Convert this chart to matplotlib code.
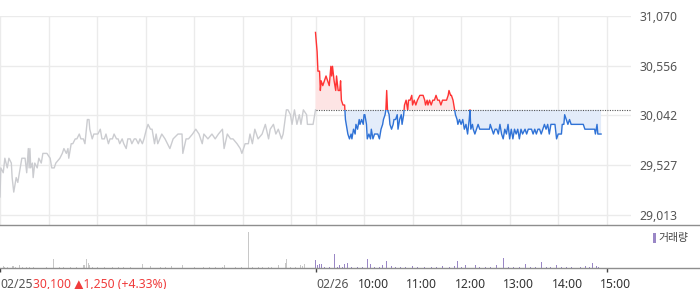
import matplotlib
matplotlib.use("Agg")
import matplotlib.pyplot as plt
from matplotlib.lines import Line2D
from matplotlib.patches import Rectangle
import numpy as np

plt.rcParams['font.family'] = ['Noto Sans', 'Noto Sans CJK KR', 'DejaVu Sans']

# --- data: minutes after 09:00 and price (won) ---
d1_min = [0, 1, 4, 6, 9, 11, 14, 15, 17, 20, 22, 25, 27, 31, 33, 35, 36, 37, 38, 40,
          41, 43, 46, 48, 51, 53, 56, 58, 62, 64, 67, 69, 74, 77, 79, 82, 84, 85, 88, 90,
          93, 95, 98, 100, 103, 105, 108, 110, 111, 114, 116, 119, 121, 124, 126, 129, 131, 134, 136, 139,
          141, 144, 146, 148, 151, 153, 156, 158, 161, 163, 166, 168, 171, 173, 176, 178, 181, 183, 186, 188,
          191, 193, 195, 200, 204, 210, 214, 220, 225, 226, 230, 233, 238, 242, 246, 250, 252, 257, 262, 266,
          270, 275, 277, 281, 285, 288, 293, 297, 299, 303, 307, 309, 312, 315, 319, 324, 328, 332, 334, 338,
          341, 344, 348, 350, 354, 356, 359, 361, 364, 367, 370, 372, 375, 379, 380, 387, 390]
d1_px = [29200, 29500, 29450, 29600, 29500, 29600, 29550, 29400, 29250, 29400, 29350, 29500, 29600, 29600, 29450, 29700, 29500, 29700, 29500, 29550,
         29400, 29550, 29500, 29600, 29550, 29650, 29650, 29650, 29600, 29500, 29500, 29550, 29600, 29650, 29700, 29650, 29700, 29600, 29750, 29750,
         29800, 29800, 29850, 29800, 29800, 29750, 30000, 30000, 29900, 29800, 29850, 29850, 29850, 29900, 29800, 29800, 29850, 29750, 29800, 29800,
         29850, 29800, 29800, 29750, 29800, 29750, 29700, 29800, 29800, 29750, 29800, 29800, 29750, 29800, 29750, 29800, 29900, 29950, 29900, 29900,
         29750, 29850, 29750, 29850, 29800, 29700, 29800, 29850, 29850, 29650, 29800, 29800, 29850, 29900, 29850, 29750, 29850, 29800, 29850, 29800,
         29850, 29900, 29700, 29850, 29800, 29800, 29750, 29700, 29650, 29750, 29750, 29850, 29750, 29900, 29800, 29850, 29950, 29800, 29900, 29950,
         29850, 29900, 29800, 29850, 30100, 30100, 30050, 29950, 30100, 29950, 30050, 29950, 30100, 30050, 29950, 29950, 30100]

d2_min = [0, 2, 3, 5, 6, 7, 9, 11, 13, 15, 17, 19, 20, 21, 23, 25, 26, 28, 30, 31,
          32, 34, 36, 37, 39, 40, 42, 44, 45, 47, 49, 50, 52, 54, 55, 57, 59, 60, 61, 63,
          64, 66, 68, 69, 71, 73, 77, 79, 81, 83, 84, 86, 87, 88, 89, 91, 92, 94, 96, 97,
          99, 101, 102, 104, 106, 107, 109, 110, 112, 114, 115, 117, 119, 120, 122, 124, 126, 129, 131, 133,
          135, 136, 138, 139, 141, 143, 145, 147, 149, 151, 153, 155, 157, 160, 162, 164, 165, 167, 168, 170,
          172, 173, 175, 176, 178, 180, 182, 184, 186, 188, 190, 191, 192, 194, 195, 197, 199, 201, 203, 205,
          215, 216, 218, 220, 222, 224, 226, 228, 230, 232, 234, 236, 238, 240, 242, 244, 246, 248, 250, 252,
          254, 256, 259, 261, 263, 265, 267, 269, 271, 273, 275, 277, 279, 281, 283, 285, 287, 289, 291, 296,
          298, 300, 304, 305, 307, 308, 310, 312, 314, 316, 331, 333, 345, 346, 348, 349, 353]
d2_px = [30900, 30700, 30500, 30500, 30300, 30400, 30350, 30400, 30450, 30400, 30350, 30550, 30450, 30550, 30400, 30300, 30450, 30300, 30300, 30400,
         30200, 30150, 30150, 30000, 29900, 29850, 29800, 29850, 29800, 29900, 29850, 29950, 29900, 30000, 29950, 30000, 29950, 30050, 30050, 29950,
         29800, 29850, 29800, 29900, 29800, 29850, 29850, 29800, 29900, 29950, 30000, 30050, 30100, 30300, 30100, 30050, 29950, 29900, 29950, 30000,
         30000, 30050, 29900, 30000, 30050, 29950, 30050, 30150, 30200, 30100, 30200, 30200, 30250, 30150, 30200, 30150, 30200, 30250, 30250, 30250,
         30200, 30150, 30200, 30150, 30200, 30150, 30200, 30200, 30250, 30200, 30200, 30150, 30200, 30200, 30200, 30250, 30300, 30250, 30250, 30200,
         30100, 30050, 30000, 29950, 30000, 29950, 30000, 29900, 29950, 29850, 30000, 30100, 29900, 29950, 29900, 29850, 29900, 29950, 29900, 29900,
         29900, 29950, 29900, 29850, 29900, 29900, 29850, 29950, 29850, 29800, 29900, 29850, 29950, 29800, 29900, 29800, 29900, 29850, 29900, 29800,
         29900, 29850, 29900, 29850, 29900, 29900, 29900, 29850, 29900, 29850, 29900, 29900, 29850, 29900, 29950, 29900, 29950, 29850, 29950, 29950,
         29800, 29850, 29850, 29950, 29950, 30050, 30000, 29950, 30000, 29950, 29950, 29900, 29900, 29850, 29950, 29850, 29850]

prev_close = 30100

# volume (thousand shares)
v1_min = [0, 4, 6, 9, 15, 17, 19, 24, 28, 33, 37, 42, 57, 66, 73, 79, 87, 94, 103, 105,
          107, 109, 111, 114, 121, 129, 139, 146, 153, 161, 176, 178, 186, 198, 204, 212, 226, 241, 251, 259,
          266, 275, 278, 291, 299, 307, 312, 319, 324, 332, 336, 344, 353, 354, 359, 365, 371, 374, 376]
v1 = [11.7, 2, 1.5, 1.5, 2, 2.5, 1.5, 2.7, 1, 1, 1, 1, 1.5, 8.7, 1, 1, 1, 1, 2.7, 3.5,
      8.7, 5, 3.3, 1.5, 1, 1, 1, 1, 1, 1, 4.3, 2, 2, 1, 1, 2.5, 2.7, 1, 1.5, 1,
      1.5, 1, 3, 1, 1, 36, 1.5, 1.5, 1, 1.5, 1.5, 3, 5, 8.7, 1.5, 1.5, 3, 2.5, 4.3]
v2_min = [0, 2, 5, 7, 11, 17, 24, 27, 30, 33, 36, 40, 45, 52, 58, 64, 68, 73, 79, 83,
          88, 94, 99, 105, 111, 120, 126, 135, 143, 150, 157, 166, 172, 176, 181, 186, 191, 198, 203, 210,
          216, 224, 232, 238, 245, 252, 259, 266, 272, 279, 285, 291, 298, 304, 310, 317, 322, 328, 334, 339,
          343, 347, 350]
v2 = [8, 3.3, 4.3, 3.7, 1, 1.5, 13.7, 1.5, 2.7, 1.5, 4.3, 5.3, 1, 1, 1, 8.7, 4.3, 1, 1.5, 3.3,
      7, 2.3, 1, 1, 1.5, 2, 1, 1, 1, 1, 2, 1, 2, 7, 1.5, 3.3, 1.5, 2.7, 1, 1,
      1.5, 3.3, 10.3, 1, 1, 1, 3.7, 1, 1, 5.7, 1, 1, 3.3, 1, 1, 1, 1, 1.5, 2, 1.5,
      4.7, 2, 1]

hour_labels = ['10:00', '11:00', '12:00', '13:00', '14:00', '15:00']
yticks = [29013, 29527, 30042, 30556, 31070]

# --- figure ---
W, H = 700, 289
fig = plt.figure(figsize=(W / 100, H / 100), dpi=100)

def fx(px):
    return px / W

def fy(py):
    return 1 - py / H

right = 631
fs = 8.8
ax = fig.add_axes([0, fy(225), fx(right), fy(15.5) - fy(225)])
axv = fig.add_axes([0, fy(268), fx(right), fy(225) - fy(268)])

grid_c = '#ebebeb'
x1 = np.array(d1_min)
x2 = np.array(d2_min) + 390
p2 = np.array(d2_px)

# gridlines
for m in [0] + [60 * k for k in range(1, 7)] + [390 + 60 * k for k in range(0, 7)]:
    ax.axvline(m, color=grid_c, lw=1, zorder=0)
for t in yticks:
    ax.axhline(t, color=grid_c, lw=1, zorder=0)

ax.plot(x1, d1_px, color='#cbccd0', lw=1, zorder=2)

ax.fill_between(x2, p2, prev_close, where=p2 >= prev_close, interpolate=True,
                color='#fde4e4', lw=0, zorder=1)
ax.fill_between(x2, p2, prev_close, where=p2 <= prev_close, interpolate=True,
                color='#e3ecfa', lw=0, zorder=1)
ax.plot([390, 780], [prev_close, prev_close], color='#555555', lw=0.8,
        ls=(0, (1, 1.2)), zorder=3)

red_line, = ax.plot(x2, p2, color='#ff3333', lw=1, zorder=4)
blue_line, = ax.plot(x2, p2, color='#2f72d6', lw=1, zorder=4)
top = Rectangle((0, prev_close), 800, 5000, transform=ax.transData)
bot = Rectangle((0, prev_close - 5000), 800, 5000, transform=ax.transData)
red_line.set_clip_path(top)
blue_line.set_clip_path(bot)

ax.set_xlim(0, 780)
ax.set_ylim(28910, 31075)
ax.set_yticks(yticks)
ax.set_yticklabels([f'{t:,}' for t in yticks])
ax.yaxis.tick_right()
ax.tick_params(axis='y', length=0, pad=6, labelsize=fs, labelcolor='#555555')
ax.set_xticks([])
for s in ax.spines.values():
    s.set_visible(False)

# volume
axv.bar(v1_min, v1, width=1.2, color='#c8c8c8', lw=0)
axv.bar(np.array(v2_min) + 390, v2, width=1.2, color='#9a87c6', lw=0)
axv.set_xlim(0, 780)
axv.set_ylim(0, 43)
axv.set_yticks([])
axv.set_xticks([0, 390, 750])
axv.set_xticklabels([])
axv.tick_params(axis='x', length=3, width=1, color='#444444', direction='out')
for s in axv.spines.values():
    s.set_visible(False)

# separators across full width
for py in (225, 268):
    fig.add_artist(Line2D([0, 1], [fy(py), fy(py)], color='#8e8e8e', lw=1, transform=fig.transFigure))

# bottom labels
base = fy(287.5)
fig.text(fx(0), base, '02/25', color='#555555', fontsize=fs, va='baseline', ha='left')
fig.text(fx(33), base, '30,100 \u25b21,250 (+4.33%)', color='#f03c3c', fontsize=fs,
         va='baseline', ha='left', family=['Noto Sans', 'DejaVu Sans'])
axv.annotate('02/26', xy=(390, base), xycoords=('data', 'figure fraction'),
             xytext=(1, 0), textcoords='offset pixels', ha='left', va='baseline',
             fontsize=fs, color='#555555')
for i, lab in enumerate(hour_labels):
    axv.annotate(lab, xy=(450 + 60 * i, base), xycoords=('data', 'figure fraction'),
                 xytext=(9, 0), textcoords='offset pixels', ha='center', va='baseline',
                 fontsize=fs, color='#333333')

# legend
fig.add_artist(Rectangle((fx(653), fy(243)), fx(3), fy(233) - fy(243),
                         transform=fig.transFigure, color='#9a87c6', lw=0))
fig.text(fx(658), fy(238), '거래량', fontsize=7.8, color='#444444', va='center', ha='left',
         family=['Noto Sans CJK KR'])

fig.savefig('out.png', dpi=100)
